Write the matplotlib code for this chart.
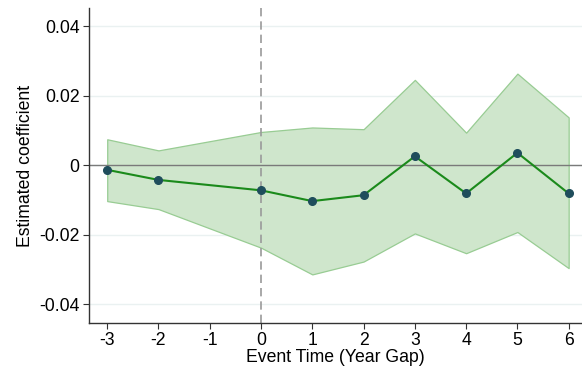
import numpy as np
import matplotlib.pyplot as plt

plt.rcParams['font.family'] = ['Liberation Sans', 'DejaVu Sans']

# event-study estimates with 95% confidence bands
event_time = [-3, -2, 0, 1, 2, 3, 4, 5, 6]
coef = [-0.0013, -0.0042, -0.0072, -0.0103, -0.0086, 0.0026, -0.0081, 0.0036, -0.0081]
ci_upper = [0.0075, 0.0043, 0.0096, 0.0109, 0.0104, 0.0246, 0.0094, 0.0264, 0.0138]
ci_lower = [-0.0103, -0.0126, -0.0237, -0.0314, -0.0277, -0.0196, -0.0253, -0.0192, -0.0296]
xticks = [-3, -2, -1, 0, 1, 2, 3, 4, 5, 6]
yticks = [-0.04, -0.02, 0, 0.02, 0.04]
ytick_labels = ['-0.04', '-0.02', '0', '0.02', '0.04']

fig = plt.figure(figsize=(5.82, 3.71), dpi=100)
ax = fig.add_axes([0.1534, 0.1302, 0.8466, 0.8474])

for y in yticks:
    ax.axhline(y, color='#eaf1f1', lw=1.0, zorder=0)

ax.fill_between(event_time, ci_lower, ci_upper, facecolor='#cfe6cc',
                edgecolor='#98cc93', lw=0.9, zorder=1)
ax.axhline(0, color='#7a7a7a', lw=1.0, zorder=2)
ax.axvline(0, color='#9a9a9a', lw=1.2, ls=(0, (5, 3)), zorder=2)
ax.plot(event_time, coef, color='#1b8a1b', lw=1.5, zorder=3)
ax.plot(event_time, coef, 'o', color='#1f4d5c', ms=5.5, zorder=4)

ax.set_xlim(-3.35, 6.26)
ax.set_ylim(-0.0453, 0.0452)
ax.set_xticks(xticks)
ax.set_xticklabels([str(t) for t in xticks])
ax.set_yticks(yticks)
ax.set_yticklabels(ytick_labels)

for side in ['top', 'right']:
    ax.spines[side].set_visible(False)
for side in ['left', 'bottom']:
    ax.spines[side].set_color('#333333')
    ax.spines[side].set_linewidth(1.0)

ax.tick_params(axis='both', direction='out', length=4, width=0.8,
               color='#333333', labelsize=12.7, pad=3)
ax.set_xlabel('Event Time (Year Gap)', fontsize=12.7, labelpad=0)
ax.set_ylabel('Estimated coefficient', fontsize=12.7, labelpad=4)

fig.savefig('out.png', dpi=100)
